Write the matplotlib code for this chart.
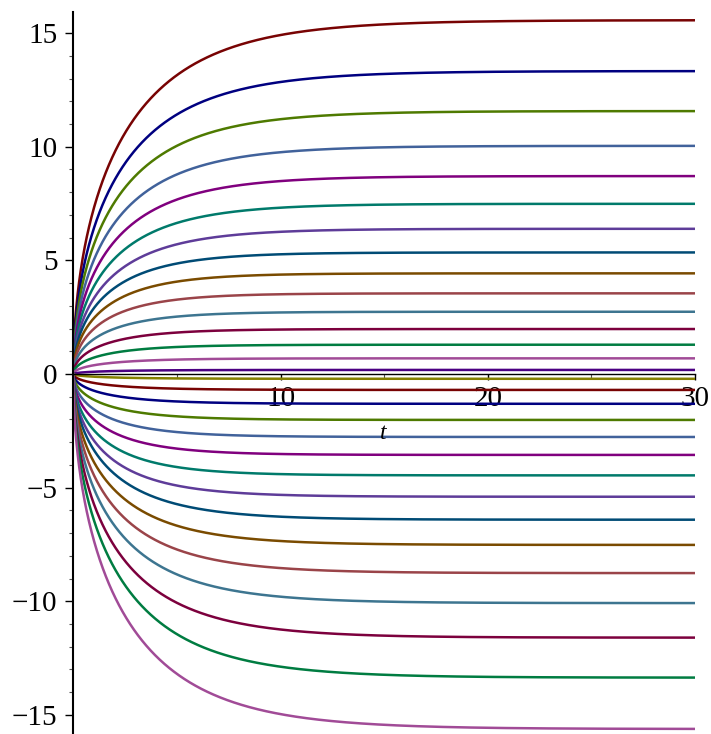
import numpy as np
import matplotlib
matplotlib.use("Agg")
import matplotlib.pyplot as plt
from matplotlib.ticker import FixedLocator

# asymptotic levels read at t = 30, listed top to bottom
upper_levels = [15.57, 13.33, 11.57, 10.04, 8.71, 7.49, 6.39, 5.35, 4.43, 3.55, 2.74, 1.98, 1.29, 0.69, 0.18]
lower_levels = [-0.21, -0.70, -1.31, -2.02, -2.77, -3.56, -4.46, -5.40, -6.41, -7.52, -8.76, -10.08, -11.60, -13.36, -15.62]

# rise rates estimated from the curves (same magnitude order as upper_levels)
upper_rates = [0.25, 0.265, 0.28, 0.29, 0.30, 0.31, 0.32, 0.35, 0.37, 0.38, 0.38, 0.38, 0.38, 0.38, 0.38]
lower_rates = upper_rates[::-1]

# Maple default palette, cycles every 16 curves
colors = ['#780303', '#000080', '#4e7a00', '#41629b', '#80007e', '#007a6b', '#5e3c99', '#004b75',
          '#7a4b00', '#9a4449', '#3d7590', '#7c003d', '#007c41', '#a14b97', '#4b0082', '#858000']

x_ticks = [10, 20, 30]
x_minor = [5, 15, 25]
y_ticks = [-15, -10, -5, 0, 5, 10, 15]

levels = upper_levels + lower_levels
rates = upper_rates + lower_rates

plt.rcParams['font.family'] = ['Liberation Serif', 'DejaVu Serif']

fig = plt.figure(figsize=(7.11, 7.34), dpi=100)
ax = fig.add_axes([73.3/711, 0, (695-73.3)/711, 722/734])

t = np.linspace(0, 30, 3000)
for i, (a, c) in enumerate(zip(levels, rates)):
    # curves of the form a*sqrt(1-exp(-c t)), parameters
    ax.plot(t, a*np.sqrt(1 - np.exp(-c*t)), color=colors[i % 16], lw=1.8)

ax.set_xlim(0, 30)
ax.set_ylim(-15.84, 15.93)

ax.spines['top'].set_visible(False)
ax.spines['right'].set_visible(False)
ax.spines['bottom'].set_position(('data', 0))
ax.spines['left'].set_linewidth(1.5)
ax.spines['bottom'].set_linewidth(1.0)

ax.xaxis.set_major_locator(FixedLocator(x_ticks))
ax.xaxis.set_minor_locator(FixedLocator(x_minor))
ax.yaxis.set_major_locator(FixedLocator(y_ticks))
ax.yaxis.set_minor_locator(FixedLocator([v for v in range(-15, 16) if v % 5 != 0]))

ax.tick_params(axis='both', which='major', direction='out', labelsize=21, width=1.0)
ax.tick_params(axis='y', which='major', length=5.5, pad=6)
ax.tick_params(axis='x', which='major', length=4.5, pad=4)
ax.tick_params(axis='both', which='minor', direction='out', length=3, width=0.8, color='#555555')

ax.text(14.95, -2.6, 't', style='italic', fontsize=17, ha='center', va='center')

fig.savefig('out.png', dpi=100)
